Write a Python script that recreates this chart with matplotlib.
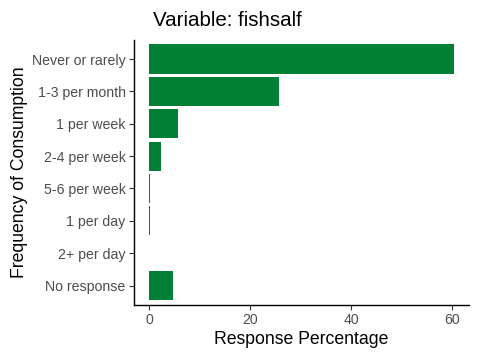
import matplotlib
matplotlib.use('Agg')
import matplotlib.pyplot as plt

categories = ['Never or rarely', '1-3 per month', '1 per week', '2-4 per week',
              '5-6 per week', '1 per day', '2+ per day', 'No response']
percent = [60.3, 25.7, 5.8, 2.4, 0.2, 0.1, 0.0, 4.8]

plt.rcParams['font.family'] = ['Liberation Sans', 'DejaVu Sans']

fig = plt.figure(figsize=(4.8, 3.6), dpi=100)
ax = fig.add_axes([0.279, 0.153, 0.698, 0.737])

ypos = list(range(len(categories)))
ax.barh(ypos, percent, height=0.9, color='#008035', edgecolor='none')

ax.set_ylim(len(categories) - 1 + 0.6, -0.6)
ax.set_yticks(ypos)
ax.set_yticklabels(categories)
hi = max(percent)
lo = min(percent)
pad = (hi - lo) * 0.05
ax.set_xlim(lo - pad, hi + pad)
ax.set_xticks([0, 20, 40, 60])

for s in ['top', 'right']:
    ax.spines[s].set_visible(False)
for s in ['left', 'bottom']:
    ax.spines[s].set_linewidth(1.0)
    ax.spines[s].set_color('black')
ax.tick_params(axis='both', labelsize=10.2, labelcolor='#4D4D4D', color='#333333',
               length=3.5, width=0.8, pad=2.5)

ax.set_xlabel('Response Percentage', fontsize=12.7, labelpad=3)
ax.set_ylabel('Frequency of Consumption', fontsize=12.7, labelpad=3)
fig.text(153 / 480, 1 - 20 / 360, 'Variable: fishsalf', fontsize=14.8,
         ha='left', va='center')

fig.savefig('out.png', dpi=100)
